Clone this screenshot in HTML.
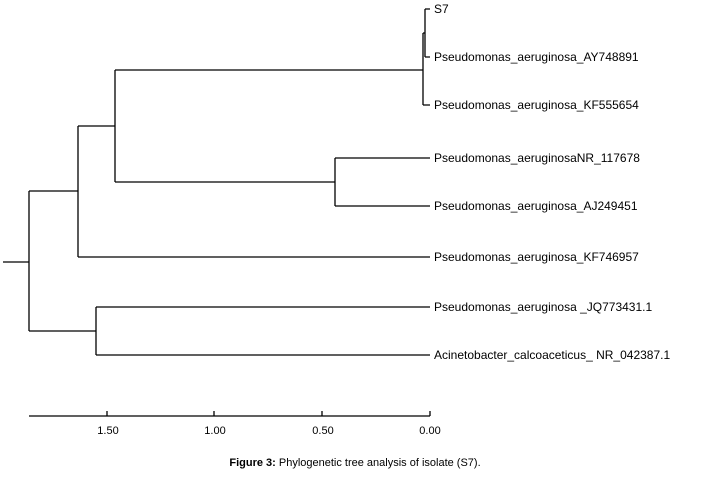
<!DOCTYPE html>
<html><head><style>body{margin:0;background:#fff}</style></head><body>
<svg width="710" height="474" xmlns="http://www.w3.org/2000/svg" font-family="Liberation Sans, Arial, sans-serif" font-size="12">
<g stroke="#000" stroke-width="1.3" fill="none">
<path d="M425 9H430M425 9V57M425 57H430"/>
<path d="M423 33H425M423 33V105M423 105H430"/>
<path d="M115 70H423M115 70V182M115 182H335"/>
<path d="M335 158H430M335 158V206M335 206H430"/>
<path d="M78 126H115M78 126V257M78 257H430"/>
<path d="M29 191H78M29 191V331M29 331H96"/>
<path d="M96 307H430M96 307V355M96 355H430"/>
<path d="M3 262H29"/>
<path d="M29 416H430M107 411V416M214 411V416M322 411V416M430 411V416"/>
</g>
<g fill="#000">
<text x="434" y="13">S7</text>
<text x="434" y="61">Pseudomonas_aeruginosa_AY748891</text>
<text x="434" y="109">Pseudomonas_aeruginosa_KF555654</text>
<text x="434" y="162">Pseudomonas_aeruginosaNR_117678</text>
<text x="434" y="210">Pseudomonas_aeruginosa_AJ249451</text>
<text x="434" y="261">Pseudomonas_aeruginosa_KF746957</text>
<text x="434" y="311">Pseudomonas_aeruginosa _JQ773431.1</text>
<text x="434" y="359">Acinetobacter_calcoaceticus_ NR_042387.1</text>
<g font-size="11" text-anchor="middle">
<text x="108" y="434">1.50</text><text x="215" y="434">1.00</text><text x="323" y="434">0.50</text><text x="430" y="434">0.00</text>
</g>
<text x="355" y="466" text-anchor="middle" font-size="11"><tspan font-weight="bold">Figure 3:</tspan> Phylogenetic tree analysis of isolate (S7).</text>
</g>
</svg>
</body></html>
